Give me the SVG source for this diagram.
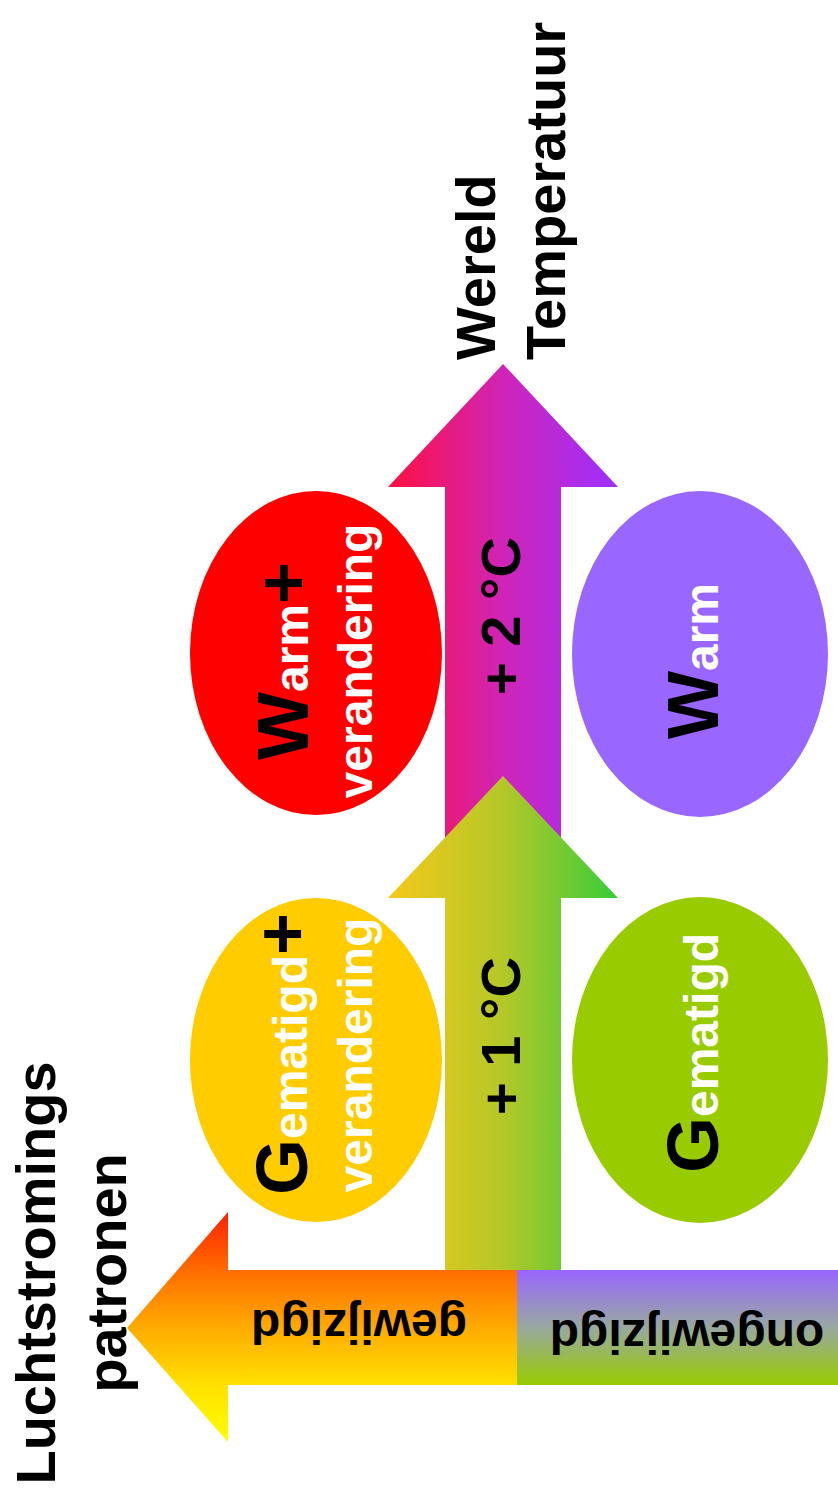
<svg xmlns="http://www.w3.org/2000/svg" width="838" height="1501" viewBox="0 0 838 1501">
  <style>
    text { font-family: "Liberation Sans", Arial, sans-serif; font-weight: bold; }
    .blk { fill: #000000; }
    .wht { fill: #ffffff; }
  </style>
  <defs>
    <linearGradient id="gradHot" gradientUnits="userSpaceOnUse" x1="388" y1="0" x2="618" y2="0">
      <stop offset="0" stop-color="#ff1040"/>
      <stop offset="0.5" stop-color="#d024b8"/>
      <stop offset="1" stop-color="#9c30ff"/>
    </linearGradient>
    <linearGradient id="gradMild" gradientUnits="userSpaceOnUse" x1="388" y1="0" x2="618" y2="0">
      <stop offset="0" stop-color="#f6c81a"/>
      <stop offset="0.5" stop-color="#b4c828"/>
      <stop offset="1" stop-color="#38cc3a"/>
    </linearGradient>
    <linearGradient id="gradChanged" gradientUnits="userSpaceOnUse" x1="0" y1="1212" x2="0" y2="1442">
      <stop offset="0" stop-color="#ff2000"/>
      <stop offset="0.25" stop-color="#ff6c00"/>
      <stop offset="0.5" stop-color="#ffaa00"/>
      <stop offset="0.75" stop-color="#ffe000"/>
      <stop offset="1" stop-color="#ffff00"/>
    </linearGradient>
    <linearGradient id="gradSame" gradientUnits="userSpaceOnUse" x1="0" y1="1270" x2="0" y2="1385">
      <stop offset="0" stop-color="#9966ff"/>
      <stop offset="0.5" stop-color="#98a8a0"/>
      <stop offset="1" stop-color="#99cc00"/>
    </linearGradient>
  </defs>

  <!-- axes / arrows -->
  <g id="connectors">
    <polygon id="arrow-plus2" fill="url(#gradHot)" points="503,364 618,487 561,487 561,898 445,898 445,487 388,487"/>
    <polygon id="arrow-plus1" fill="url(#gradMild)" points="503,776 618,898 561,898 561,1270 445,1270 445,898 388,898"/>
    <polygon id="arrow-changed" fill="url(#gradChanged)" points="517,1270 228,1270 228,1212 127,1328 228,1442 228,1385 517,1385"/>
    <rect id="bar-unchanged" fill="url(#gradSame)" x="517" y="1270" width="321" height="115"/>
  </g>

  <!-- arrow labels -->
  <g id="label-plus2">
    <text class="blk" font-size="56" text-anchor="middle" transform="translate(520,616) rotate(-90)">+ 2 °C</text>
  </g>
  <g id="label-plus1">
    <text class="blk" font-size="56" text-anchor="middle" transform="translate(520,1036) rotate(-90)">+ 1 °C</text>
  </g>
  <g id="label-changed">
    <text class="blk" font-size="48" text-anchor="middle" transform="translate(359,1310) rotate(180)">gewijzigd</text>
  </g>
  <g id="label-unchanged">
    <text class="blk" font-size="48" text-anchor="middle" transform="translate(687,1320) rotate(180)">ongewijzigd</text>
  </g>

  <!-- climate states -->
  <g id="node-warm-change">
    <ellipse cx="316" cy="653" rx="126" ry="162" fill="#ff0000"/>
    <text text-anchor="middle" transform="translate(308,661) rotate(-90)"><tspan class="blk" font-size="72">W</tspan><tspan class="wht" font-size="48">arm</tspan><tspan class="blk" font-size="72">+</tspan></text>
    <text class="wht" font-size="48" text-anchor="middle" transform="translate(372,661) rotate(-90)">verandering</text>
  </g>
  <g id="node-warm">
    <ellipse cx="700" cy="654" rx="128" ry="163" fill="#9966ff"/>
    <text text-anchor="middle" transform="translate(718,661) rotate(-90)"><tspan class="blk" font-size="72">W</tspan><tspan class="wht" font-size="48">arm</tspan></text>
  </g>
  <g id="node-mild-change">
    <ellipse cx="316" cy="1060" rx="126" ry="162" fill="#ffcc00"/>
    <text text-anchor="middle" transform="translate(307,1054) rotate(-90)"><tspan class="blk" font-size="72">G</tspan><tspan class="wht" font-size="48">ematigd</tspan><tspan class="blk" font-size="72">+</tspan></text>
    <text class="wht" font-size="48" text-anchor="middle" transform="translate(372,1055) rotate(-90)">verandering</text>
  </g>
  <g id="node-mild">
    <ellipse cx="700" cy="1060" rx="128" ry="163" fill="#99cc00"/>
    <text text-anchor="middle" transform="translate(718,1053) rotate(-90)"><tspan class="blk" font-size="72">G</tspan><tspan class="wht" font-size="48">ematigd</tspan></text>
  </g>

  <!-- axis titles -->
  <g id="title-temperature">
    <text class="blk" font-size="56" transform="translate(495,360) rotate(-90)">Wereld</text>
    <text class="blk" font-size="56" transform="translate(565,360) rotate(-90)">Temperatuur</text>
  </g>
  <g id="title-airflow">
    <text class="blk" font-size="56" text-anchor="middle" transform="translate(55,1273) rotate(-90)">Luchtstromings</text>
    <text class="blk" font-size="56" text-anchor="middle" transform="translate(126,1273) rotate(-90)">patronen</text>
  </g>
</svg>
